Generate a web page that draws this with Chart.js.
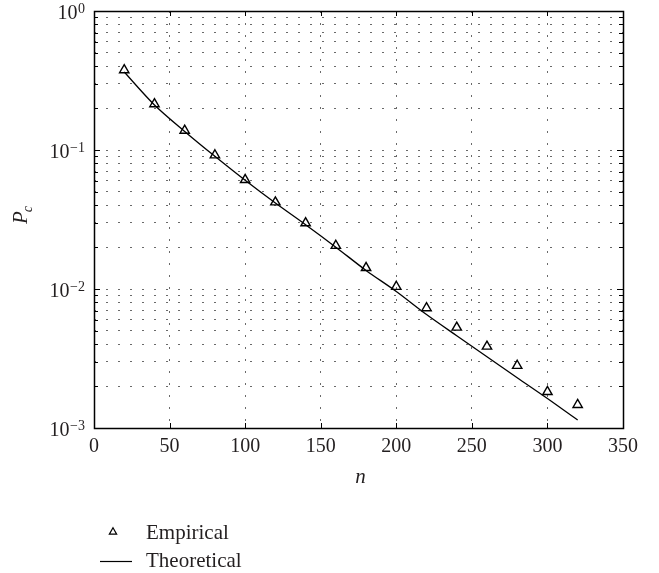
<!DOCTYPE html>
<html>
<head>
<meta charset="utf-8">
<script src="https://cdn.jsdelivr.net/npm/chart.js@4/dist/chart.umd.min.js"></script>
<style>
html,body{margin:0;padding:0;background:#fff;}
#wrap{width:659px;height:573px;}
</style>
</head>
<body>
<div id="wrap"><canvas id="c" width="659" height="573"></canvas></div>
<script>
// ---- data ----
const nValues = [20,40,60,80,100,120,140,160,180,200,220,240,260,280,300,320];
const empirical = [0.376,0.214,0.138,0.0918,0.061,0.0421,0.0298,0.0205,0.0142,0.0104,0.0073,0.00529,0.00386,0.00281,0.00182,0.00147];
const theoretical = [0.364,0.211,0.136,0.090,0.0605,0.0415,0.0290,0.0200,0.0136,0.0096,0.00655,0.00461,0.00326,0.00230,0.00163,0.00114];
const xTicks = [0,50,100,150,200,250,300,350];
const yDecades = [0.001,0.01,0.1,1];
const yDecadeExponents = ['\u22123','\u22122','\u22121','0'];
const yMinorMultipliers = [2,3,4,5,6,7,8,9];
const seriesNames = ['Empirical','Theoretical'];
const xTitle = 'n';
const yTitleMain = 'P';
const yTitleSub = 'c';

const FONT = '"Liberation Serif", "DejaVu Serif", serif';
const TEXT = '#231f20';

const yGridValues = [];
yDecades.forEach((d, i) => {
  yGridValues.push(d);
  if (i < yDecades.length - 1) yMinorMultipliers.forEach(m => yGridValues.push(d * m));
});

const decor = {
  id: 'decor',
  afterDraw(chart) {
    const ctx = chart.ctx;
    const xs = chart.scales.x, ys = chart.scales.y;
    const a = chart.chartArea;
    ctx.save();
    // inside tick marks
    ctx.strokeStyle = '#000';
    ctx.lineWidth = 1;
    ctx.beginPath();
    xTicks.forEach(v => {
      const px = Math.round(xs.getPixelForValue(v)) + 0.5;
      ctx.moveTo(px, a.bottom); ctx.lineTo(px, a.bottom - 5);
      ctx.moveTo(px, a.top); ctx.lineTo(px, a.top + 5);
    });
    yGridValues.forEach(v => {
      const py = Math.round(ys.getPixelForValue(v)) + 0.5;
      const major = yDecades.includes(v);
      const L = major ? 6 : 4;
      ctx.moveTo(a.left, py); ctx.lineTo(a.left + L, py);
      ctx.moveTo(a.right, py); ctx.lineTo(a.right - L, py);
    });
    ctx.stroke();
    // box
    ctx.lineWidth = 1.5;
    ctx.strokeRect(Math.round(a.left) + 0.5, Math.round(a.top) + 0.5,
                   Math.round(a.right - a.left), Math.round(a.bottom - a.top));
    // x tick labels
    ctx.fillStyle = TEXT;
    ctx.font = '20px ' + FONT;
    ctx.textAlign = 'center';
    ctx.textBaseline = 'alphabetic';
    xTicks.forEach(v => {
      ctx.fillText(String(v), xs.getPixelForValue(v), a.bottom + 24);
    });
    // y tick labels 10^k
    yDecades.forEach((v, i) => {
      const py = ys.getPixelForValue(v);
      const exp = yDecadeExponents[i];
      ctx.font = '14px ' + FONT;
      ctx.textAlign = 'right';
      const ew = ctx.measureText(exp).width;
      ctx.fillText(exp, 85, py + 1.5);
      ctx.font = '20px ' + FONT;
      ctx.fillText('10', 85 - ew - 0.5, py + 7.8);
    });
    // x title
    ctx.font = 'italic 21px ' + FONT;
    ctx.textAlign = 'center';
    ctx.fillText(xTitle, (a.left + a.right) / 2 + 2, 483);
    // y title
    ctx.save();
    ctx.translate(27, 224);
    ctx.rotate(-Math.PI / 2);
    ctx.textAlign = 'left';
    ctx.font = 'italic 21px ' + FONT;
    ctx.fillText(yTitleMain, 0, 0);
    const pw = ctx.measureText(yTitleMain).width;
    ctx.font = 'italic 14px ' + FONT;
    ctx.fillText(yTitleSub, pw - 1, 5);
    ctx.restore();
    // legend
    ctx.strokeStyle = '#000';
    ctx.lineWidth = 1.2;
    const tx = 113, ty = 532, r = 4.2;
    ctx.beginPath();
    ctx.moveTo(tx, ty - r);
    ctx.lineTo(tx + r * 0.866, ty + r * 0.5);
    ctx.lineTo(tx - r * 0.866, ty + r * 0.5);
    ctx.closePath();
    ctx.stroke();
    ctx.beginPath();
    ctx.moveTo(100, 561.5); ctx.lineTo(132, 561.5);
    ctx.stroke();
    ctx.font = '21px ' + FONT;
    ctx.textAlign = 'left';
    ctx.fillStyle = TEXT;
    ctx.fillText(chart.data.datasets[0].label, 146, 539);
    ctx.fillText(chart.data.datasets[1].label, 146, 567);
    ctx.restore();
  }
};

new Chart(document.getElementById('c'), {
  type: 'line',
  data: {
    datasets: [
      {
        label: seriesNames[0],
        data: nValues.map((n, i) => ({x: n, y: empirical[i]})),
        showLine: false,
        pointStyle: 'triangle',
        pointRadius: 5.4,
        pointBorderWidth: 1.4,
        pointBorderColor: '#000',
        pointBackgroundColor: 'rgba(255,255,255,0)',
        borderColor: '#000'
      },
      {
        label: seriesNames[1],
        data: nValues.map((n, i) => ({x: n, y: theoretical[i]})),
        borderColor: '#000',
        borderWidth: 1.3,
        pointRadius: 0,
        tension: 0.3,
        fill: false
      }
    ]
  },
  options: {
    responsive: false,
    animation: false,
    devicePixelRatio: 1,
    layout: {padding: {top: 11, right: 36, left: 0, bottom: 0}},
    plugins: {legend: {display: false}, tooltip: {enabled: false}},
    scales: {
      x: {
        type: 'linear',
        min: 0, max: 350,
        afterBuildTicks(s) { s.ticks = xTicks.map(v => ({value: v})); },
        afterFit(s) { s.height = 145; },
        ticks: {display: false},
        grid: {color: '#6a6a6a', lineWidth: 1, drawTicks: false},
        border: {display: false, dash: [2, 10]}
      },
      y: {
        type: 'logarithmic',
        min: 0.001, max: 1,
        afterBuildTicks(s) { s.ticks = yGridValues.map(v => ({value: v, major: yDecades.includes(v)})); },
        afterFit(s) { s.width = 94; },
        ticks: {display: false, autoSkip: false},
        grid: {color: '#6a6a6a', lineWidth: 1, drawTicks: false},
        border: {display: false, dash: [2, 10]}
      }
    }
  },
  plugins: [decor]
});
</script>
</body>
</html>
